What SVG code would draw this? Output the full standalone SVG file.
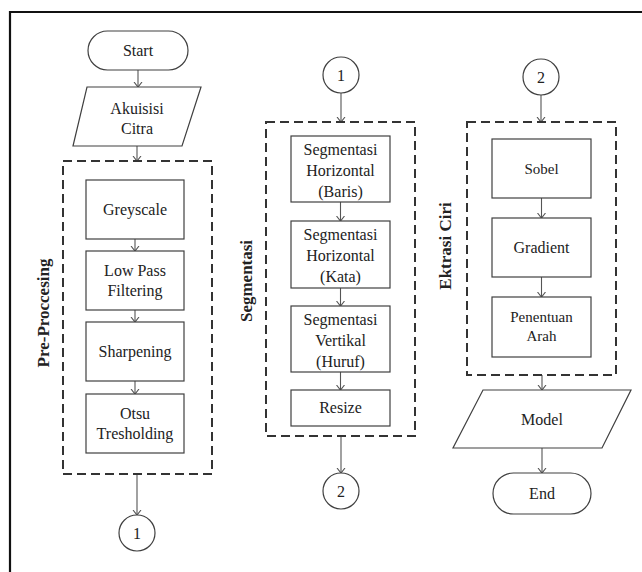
<svg xmlns="http://www.w3.org/2000/svg" width="642" height="572" viewBox="0 0 642 572">
<style>
  .n{fill:#fff;stroke:#404040;stroke-width:1.2}
  .g{fill:none;stroke:#333;stroke-width:2;stroke-dasharray:9,5}
  .t{font-family:"Liberation Serif","Times New Roman",serif;font-size:16px;fill:#222;text-anchor:middle}
  .s{font-size:15px}
  .b{font-family:"Liberation Serif","Times New Roman",serif;font-size:17px;font-weight:bold;fill:#222;text-anchor:middle}
  .c{fill:none;stroke:#555;stroke-width:1.1}
</style>
<defs>
  <marker id="ar" markerUnits="userSpaceOnUse" markerWidth="10" markerHeight="10" refX="5" refY="5" viewBox="0 0 10 10" orient="auto">
    <path d="M0,1 L5,5 L0,9" fill="none" stroke="#555" stroke-width="1.1"/>
  </marker>
</defs>
<rect width="642" height="572" fill="#fff"/>
<g id="frame">
  <path d="M10,572 L10,12 L642,12" fill="none" stroke="#111" stroke-width="2.2"/>
</g>
<g id="connectors">
  <path class="c" d="M138,70 L138,87" marker-end="url(#ar)"/>
  <path class="c" d="M137,146 L137,161" marker-end="url(#ar)"/>
  <path class="c" d="M135,239 L135,251" marker-end="url(#ar)"/>
  <path class="c" d="M135,310 L135,322" marker-end="url(#ar)"/>
  <path class="c" d="M135,381 L135,394" marker-end="url(#ar)"/>
  <path class="c" d="M137,474 L137,515" marker-end="url(#ar)"/>
  <path class="c" d="M341,93 L341,122" marker-end="url(#ar)"/>
  <path class="c" d="M340.5,202 L340.5,221" marker-end="url(#ar)"/>
  <path class="c" d="M340.5,288 L340.5,306" marker-end="url(#ar)"/>
  <path class="c" d="M340.5,372 L340.5,390" marker-end="url(#ar)"/>
  <path class="c" d="M341,436 L341,473" marker-end="url(#ar)"/>
  <path class="c" d="M541,95 L541,122" marker-end="url(#ar)"/>
  <path class="c" d="M541.5,198 L541.5,218" marker-end="url(#ar)"/>
  <path class="c" d="M541.5,277 L541.5,297" marker-end="url(#ar)"/>
  <path class="c" d="M542,375 L542,390" marker-end="url(#ar)"/>
  <path class="c" d="M542,448 L542,473" marker-end="url(#ar)"/>
</g>
<g id="start">
  <rect class="n" x="88" y="31" width="100" height="39" rx="19.5"/>
  <text class="t" x="138" y="56">Start</text>
</g>
<g id="akuisisi">
  <polygon class="n" points="87,87 201,87 182,146 73,146"/>
  <text class="t" x="137" y="114">Akuisisi</text>
  <text class="t" x="137" y="134">Citra</text>
</g>
<g id="preprocessing">
  <rect class="g" x="63" y="161" width="149" height="313"/>
  <text class="b" transform="translate(49,313) rotate(-90)">Pre-Proccesing</text>
</g>
<g id="greyscale">
  <rect class="n" x="86" y="180" width="98" height="59"/>
  <text class="t" x="135" y="215">Greyscale</text>
</g>
<g id="lowpass">
  <rect class="n" x="86" y="251" width="98" height="59"/>
  <text class="t" x="135" y="276">Low Pass</text>
  <text class="t" x="135" y="296">Filtering</text>
</g>
<g id="sharpening">
  <rect class="n" x="86" y="322" width="98" height="59"/>
  <text class="t" x="135" y="357">Sharpening</text>
</g>
<g id="otsu">
  <rect class="n" x="86" y="394" width="98" height="59"/>
  <text class="t" x="135" y="419">Otsu</text>
  <text class="t" x="135" y="439">Tresholding</text>
</g>
<g id="c1a">
  <circle class="n" cx="137" cy="533" r="18"/>
  <text class="t" x="137" y="539">1</text>
</g>
<g id="c1b">
  <circle class="n" cx="341" cy="75" r="18"/>
  <text class="t" x="341" y="81">1</text>
</g>
<g id="segmentasi">
  <rect class="g" x="266" y="122" width="149" height="314"/>
  <text class="b" transform="translate(252,281) rotate(-90)">Segmentasi</text>
</g>
<g id="seg1">
  <rect class="n" x="291" y="136" width="99" height="66"/>
  <text class="t" x="340.5" y="155">Segmentasi</text>
  <text class="t" x="340.5" y="176">Horizontal</text>
  <text class="t" x="340.5" y="197">(Baris)</text>
</g>
<g id="seg2">
  <rect class="n" x="291" y="221" width="99" height="67"/>
  <text class="t" x="340.5" y="240">Segmentasi</text>
  <text class="t" x="340.5" y="261">Horizontal</text>
  <text class="t" x="340.5" y="282">(Kata)</text>
</g>
<g id="seg3">
  <rect class="n" x="291" y="306" width="99" height="66"/>
  <text class="t" x="340.5" y="325">Segmentasi</text>
  <text class="t" x="340.5" y="346">Vertikal</text>
  <text class="t" x="340.5" y="367">(Huruf)</text>
</g>
<g id="resize">
  <rect class="n" x="291" y="390" width="99" height="36"/>
  <text class="t" x="340.5" y="413">Resize</text>
</g>
<g id="c2a">
  <circle class="n" cx="341" cy="491" r="18"/>
  <text class="t" x="341" y="497">2</text>
</g>
<g id="c2b">
  <circle class="n" cx="541" cy="77" r="18"/>
  <text class="t" x="541" y="83">2</text>
</g>
<g id="ekstraksi">
  <rect class="g" x="467" y="122" width="149" height="253"/>
  <text class="b" transform="translate(451,246) rotate(-90)">Ektrasi Ciri</text>
</g>
<g id="sobel">
  <rect class="n" x="492" y="139" width="99" height="59"/>
  <text class="t s" x="541.5" y="174">Sobel</text>
</g>
<g id="gradient">
  <rect class="n" x="492" y="218" width="99" height="59"/>
  <text class="t" x="541.5" y="253">Gradient</text>
</g>
<g id="arah">
  <rect class="n" x="492" y="297" width="99" height="60"/>
  <text class="t s" x="541.5" y="322">Penentuan</text>
  <text class="t s" x="541.5" y="341">Arah</text>
</g>
<g id="model">
  <polygon class="n" points="483,390 631,390 602,448 453,448"/>
  <text class="t" x="542" y="425">Model</text>
</g>
<g id="end">
  <rect class="n" x="493" y="473" width="98" height="41" rx="20.5"/>
  <text class="t" x="542" y="499">End</text>
</g>
</svg>
